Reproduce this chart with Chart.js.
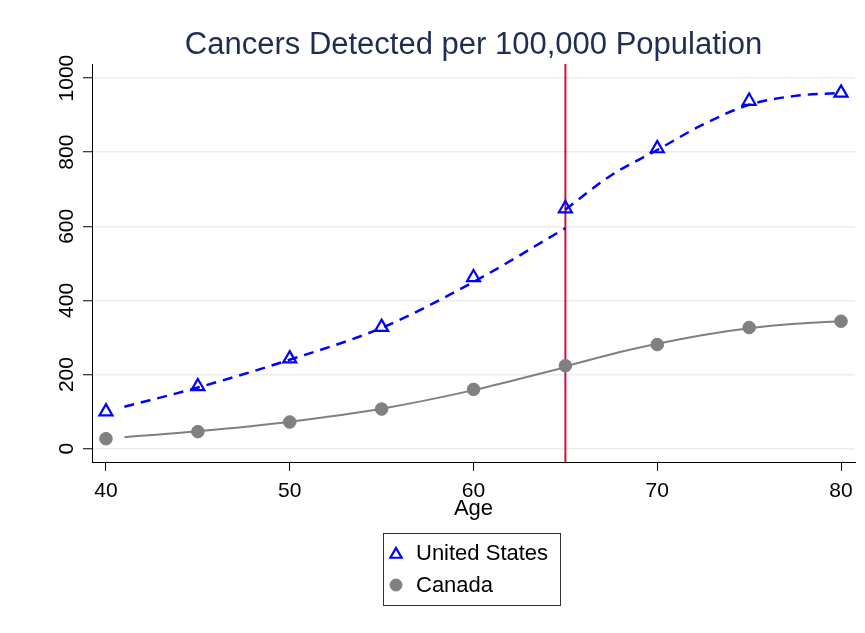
<!DOCTYPE html>
<html><head><meta charset="utf-8">
<script src="https://cdn.jsdelivr.net/npm/chart.js@4.4.1/dist/chart.umd.min.js"></script>
<style>html,body{margin:0;padding:0;background:#fff}#wrap{width:865px;height:633px;position:relative}</style>
</head><body><div id="wrap"><canvas id="c" width="865" height="633"></canvas></div>
<script>
const chartTitle = 'Cancers Detected per 100,000 Population';
const xAxisTitle = 'Age';
const seriesNames = ['United States', 'Canada'];
const ages = [40, 45, 50, 55, 60, 65, 70, 75, 80];
const usRates = [100, 168, 243, 328, 462, 648, 810, 938, 960];
const canadaRates = [27, 46, 72, 107, 160, 224, 281, 327, 344];
const fitAgesBefore = [41, 45, 50, 55, 60, 65];
const usFitBefore = [113, 165, 240, 326, 450, 595];
const canadaFitBefore = [31, 47, 73, 108, 158, 220];
const fitAgesAfter = [65, 67.5, 70, 72.5, 75, 77.5, 80];
const usFitAfter = [645, 738, 806, 875, 928, 952, 960];
const canadaFitAfter = [222, 255, 283, 307, 325, 337, 344];
const cutoffAge = 65;
const xTicks = [40, 50, 60, 70, 80];
const yTicks = [0, 200, 400, 600, 800, 1000];

const FONT = "'Liberation Sans', Arial, sans-serif";
const BLUE = '#0000ff';
const GRAY = '#808080';
const toPts = (xs, ys) => xs.map((x, i) => ({x: x, y: ys[i]}));

const cutoffPlugin = {
  id: 'cutoff',
  beforeDatasetsDraw(chart) {
    const {ctx, chartArea, scales} = chart;
    const px = scales.x.getPixelForValue(cutoffAge);
    ctx.save();
    ctx.strokeStyle = '#cc1439';
    ctx.lineWidth = 2;
    ctx.beginPath();
    ctx.moveTo(px, chartArea.top);
    ctx.lineTo(px, chartArea.bottom);
    ctx.stroke();
    ctx.restore();
  }
};

const legendBoxPlugin = {
  id: 'legendBox',
  afterDraw(chart) {
    const {ctx} = chart;
    const bx = 383, by = 533, bw = 177, bh = 72;
    ctx.save();
    ctx.strokeStyle = '#333333';
    ctx.lineWidth = 1;
    ctx.strokeRect(bx + 0.5, by + 0.5, bw, bh);
    const items = [0, 1].map(i => chart.data.datasets[i]);
    items.forEach((ds, i) => {
      const cy = by + 20 + i * 32;
      ctx.strokeStyle = ds.borderColor;
      ctx.fillStyle = ds.backgroundColor;
      ctx.lineWidth = ds.pointBorderWidth;
      Chart.helpers.drawPoint(ctx, {pointStyle: ds.pointStyle, radius: ds.pointStyle === 'triangle' ? 6.5 : 6, borderWidth: ds.pointBorderWidth, rotation: 0}, bx + 13, cy + (ds.pointStyle === 'triangle' ? 1.5 : 0));
      ctx.fillStyle = '#000';
      ctx.font = '22px ' + FONT;
      ctx.textBaseline = 'middle';
      ctx.textAlign = 'left';
      ctx.fillText(ds.label, bx + 33, cy + 1);
    });
    ctx.restore();
  }
};

new Chart(document.getElementById('c'), {
  type: 'line',
  data: {
    datasets: [
      {label: seriesNames[0], data: toPts(ages, usRates), showLine: false, pointStyle: 'triangle',
       pointRadius: 7.5, pointBorderWidth: 2.2, borderColor: BLUE, backgroundColor: 'rgba(0,0,0,0)',
       pointBorderColor: BLUE, pointBackgroundColor: 'rgba(0,0,0,0)'},
      {label: seriesNames[1], data: toPts(ages, canadaRates), showLine: false, pointStyle: 'circle',
       pointRadius: 6.3, pointBorderWidth: 1, borderColor: GRAY, backgroundColor: GRAY,
       pointBorderColor: GRAY, pointBackgroundColor: GRAY},
      {label: 'usFitBefore', data: toPts(fitAgesBefore, usFitBefore), borderColor: BLUE, borderWidth: 2.5,
       borderDash: [10, 7], pointRadius: 0, cubicInterpolationMode: 'monotone', fill: false},
      {label: 'usFitAfter', data: toPts(fitAgesAfter, usFitAfter), borderColor: BLUE, borderWidth: 2.5,
       borderDash: [10, 7], pointRadius: 0, cubicInterpolationMode: 'monotone', fill: false},
      {label: 'caFitBefore', data: toPts(fitAgesBefore, canadaFitBefore), borderColor: GRAY, borderWidth: 2,
       pointRadius: 0, cubicInterpolationMode: 'monotone', fill: false},
      {label: 'caFitAfter', data: toPts(fitAgesAfter, canadaFitAfter), borderColor: GRAY, borderWidth: 2,
       pointRadius: 0, cubicInterpolationMode: 'monotone', fill: false}
    ]
  },
  options: {
    responsive: false,
    devicePixelRatio: 1,
    animation: false,
    events: [],
    layout: {padding: {top: 0, left: 0, right: 10, bottom: 111}},
    plugins: {
      legend: {display: false},
      tooltip: {enabled: false},
      title: {display: true, text: chartTitle, fullSize: false, color: '#1f2d52',
              font: {family: FONT, size: 31, weight: 'normal'}, padding: {top: 26.8, bottom: 0}}
    },
    scales: {
      x: {
        type: 'linear', min: 39.24, max: 80.76,
        afterBuildTicks: s => { s.ticks = xTicks.map(v => ({value: v})); },
        afterFit: s => { s.height = 60; s.paddingLeft = 0; s.paddingRight = 0; },
        ticks: {font: {family: FONT, size: 21}, color: '#000', padding: 8, maxRotation: 0, autoSkip: false,
                callback: v => String(v)},
        grid: {drawOnChartArea: false, drawTicks: true, tickLength: 9, tickColor: '#000', tickWidth: 1},
        border: {display: true, color: '#000', width: 1},
        title: {display: true, text: xAxisTitle, color: '#000', font: {family: FONT, size: 22}, padding: 0}
      },
      y: {
        type: 'linear', min: -35.9, max: 1038,
        afterBuildTicks: s => { s.ticks = yTicks.map(v => ({value: v})); },
        afterFit: s => { s.width = 92; s.paddingTop = 0; s.paddingBottom = 0; },
        ticks: {font: {family: FONT, size: 21}, color: '#000', minRotation: 90, maxRotation: 90,
                crossAlign: 'center', padding: -7.5, autoSkip: false, callback: v => String(v)},
        grid: {color: '#e6eef1', lineWidth: 1.5, drawTicks: true, tickLength: 9, tickColor: '#000', tickWidth: 1},
        border: {display: true, color: '#000', width: 1}
      }
    }
  },
  plugins: [cutoffPlugin, legendBoxPlugin]
});
</script></body></html>
